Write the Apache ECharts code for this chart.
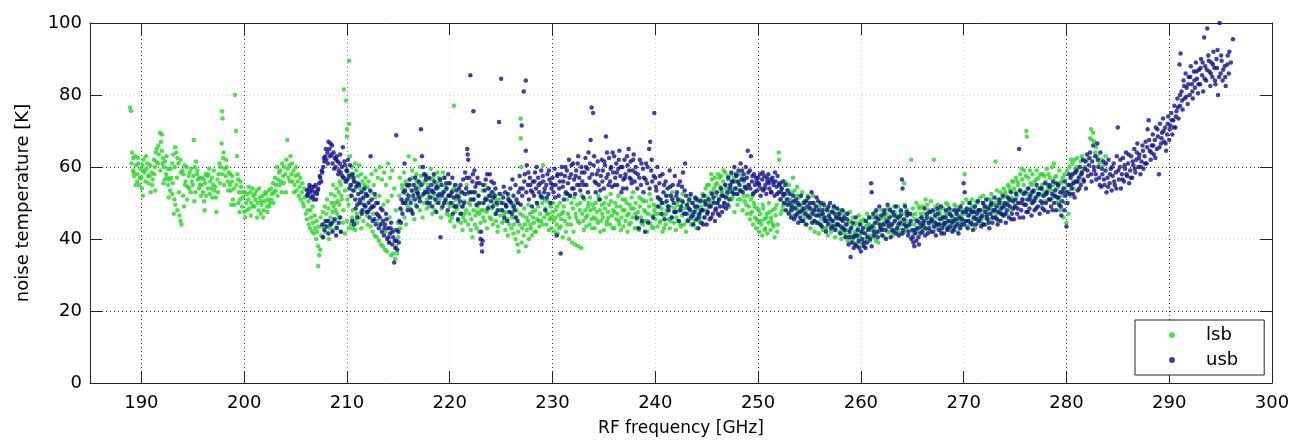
<!DOCTYPE html>
<html>
<head>
<meta charset="utf-8">
<script src="https://cdn.jsdelivr.net/npm/echarts@6/dist/echarts.min.js"></script>
<style>
html,body{margin:0;padding:0;background:#fff;}
#chart{width:1296px;height:442px;}
</style>
</head>
<body>
<div id="chart"></div>
<script>
// ---- lsb (green) : [frequency GHz, noise temperature K]
var lsb1 = [[188.9,76.5],[189.0,75.6],[189.1,64],[189.2,62.5],[189.2,59],[189.3,57.5],[189.4,63],[189.5,60.5],[189.6,58],[189.6,56],[189.7,61],[189.8,55],[189.9,59.5],[190.0,57],[190.1,60.5],[190.2,62],[190.3,58.5],[190.4,56],[190.5,59.5],[190.6,61],[190.7,55.5],[190.8,57.5],[190.9,53],[191.0,58.5],[191.1,56.5],[191.2,62],[191.3,60],[191.4,64],[191.5,65],[191.6,61],[191.7,63.5],[191.8,69.5],[191.9,67],[192.0,69],[192.0,64.5],[192.1,62.5],[192.2,60],[192.3,61.5],[192.4,58],[192.5,57],[192.6,55],[192.6,59.5],[192.7,56.5],[192.8,53.5],[192.9,57],[193.0,61],[193.0,52.5],[193.1,63.5],[193.2,51],[193.3,65.5],[193.3,49.5],[193.4,64],[193.5,62.5],[193.5,48],[193.6,61],[193.7,46.5],[193.8,62],[193.8,45],[193.9,44],[194.0,59],[194.1,58],[194.2,60.5],[194.3,56],[194.4,60],[194.5,54.5],[194.6,57.5],[194.7,58.5],[194.8,53],[194.9,56],[195.0,55],[195.1,67.5],[195.2,60],[195.3,61.5],[195.4,58],[195.5,56.5],[195.6,54],[195.7,55],[195.8,52],[195.9,57],[196.0,53],[196.1,50.5],[196.2,55.5],[196.3,52],[196.4,57.5],[196.5,58],[196.6,59.5],[196.7,56],[196.8,54],[196.9,51.5],[197.0,55],[197.1,53.5],[197.2,54.5],[197.3,47.5],[197.4,56.5],[197.5,58],[197.6,61],[197.7,60],[197.8,66.5],[197.85,75.5],[197.9,73.5],[198.0,64],[198.1,59.5],[198.2,57.5],[198.3,60],[198.4,56],[198.5,58.5],[198.6,55],[198.7,53.5],[198.8,56],[198.9,51],[199.0,54],[199.1,80],[199.2,70],[199.3,63],[199.35,58],[199.4,56.5],[199.5,53],[199.6,51],[199.7,54.5],[199.8,49],[199.9,51.5],
 [189.05,61],[189.25,58.5],[189.45,55],[189.65,62.5],[189.85,57],[190.05,54],[190.25,59],[190.45,63],[190.65,57.5],[190.85,60.5],[191.05,55],[191.25,58],[191.45,61.5],[191.65,66],[191.85,59],[192.05,61],[192.25,56.5],[192.45,63],[192.65,51.5],[192.85,59.5],[193.05,55.5],[193.25,60],[193.45,57],[193.65,53],[193.85,58.5],[194.05,52],[194.25,55],[194.45,51],[194.65,54],[194.85,59.5],[195.05,57.5],[195.25,53],[195.45,59],[195.65,57],[195.85,55],[196.05,56.5],[196.25,58],[196.45,54],[196.65,52.5],[196.85,57],[197.05,59],[197.25,51.5],[197.45,53],[197.65,55.5],[197.85,58],[198.05,55],[198.25,62],[198.45,53.5],[198.65,58],[198.85,57.5],[199.05,49.5],[199.25,55],[199.45,50],[199.65,56],[199.85,53],[190.15,52],[191.35,53.5],[192.15,55.5],[193.15,47],[194.15,49],[195.15,50.5],[196.15,48],[197.95,62.5],[198.75,49.5],[199.55,47.5]];
var lsb2 = [[200.0,47.5],[200.1,46],[200.2,50],[200.3,52.5],[200.4,51],[200.5,48.5],[200.6,53],[200.7,50],[200.8,54],[200.9,52],[201.0,49],[201.1,51],[201.2,53.5],[201.3,50],[201.4,48],[201.5,51.5],[201.6,47],[201.7,49.5],[201.8,52],[201.9,48],[202.0,50.5],[202.1,52.5],[202.2,49],[202.3,51],[202.4,53.5],[202.5,50],[202.6,54],[202.7,52.5],[202.8,55.5],[202.9,53],[203.0,57],[203.1,55],[203.2,60],[203.3,56.5],[203.4,58.5],[203.5,59],[203.6,56],[203.7,61],[203.8,57.5],[203.9,60],[204.0,58],[204.1,62],[204.2,67.5],[204.3,57],[204.4,60.5],[204.5,63],[204.6,58],[204.7,56],[204.8,59],[204.9,55],[205.0,57.5],[205.1,53.5],[205.2,56],[205.3,52],[205.4,54.5],[205.5,51],[205.6,53],[205.7,50],[205.8,49],[205.9,51.5],[206.0,47],[206.1,45.5],[206.2,48],[206.3,44],[206.4,43],[206.5,46],[206.6,42],[206.7,44.5],[206.8,41.5],[206.9,43],[207.0,40],[207.1,42],[207.2,38],[207.2,32.5],[207.3,35.5],[207.4,37],[207.5,41],[207.6,43.5],[207.7,40.5],[207.8,44],[207.9,42],[208.0,47],[208.1,45],[208.2,48.5],[208.3,43],[208.4,46],[208.4,44],[208.5,50],[208.6,47.5],[208.6,42.5],[208.7,49],[208.8,52],[208.8,45],[208.9,48],[209.0,54],[209.0,43.5],[209.1,50.5],[209.2,53],[209.2,46],[209.3,56],[209.4,55],[209.4,42],[209.5,51],[209.6,57],[209.6,44.5],[209.7,81.5],[209.8,53.5],[209.8,41.5],[209.9,78.5],[210.0,70.5],[210.0,68.5],[210.0,45],[210.1,58.5],[210.2,89.5],[210.2,72],[210.2,43],[210.3,63],[210.3,55],
 [200.05,53],[200.25,48],[200.45,54.5],[200.65,46.5],[200.85,49],[201.05,52.5],[201.25,46],[201.45,54],[201.65,50.5],[201.85,46],[202.05,53],[202.25,47.5],[202.45,49],[202.65,51],[202.85,50],[203.05,53.5],[203.25,52],[203.45,55],[203.65,53],[203.85,55.5],[204.05,53],[204.25,59.5],[204.45,56],[204.65,61],[204.85,53],[205.05,60],[205.25,58],[205.45,57],[205.65,55.5],[205.85,54],[206.05,52],[206.25,50.5],[206.45,48],[206.65,49],[206.85,46.5],[207.05,45],[207.25,43.5],[207.45,46],[207.65,47.5],[207.85,49],[208.05,51],[208.25,40],[208.45,52.5],[208.65,55],[208.85,50],[209.05,47],[209.25,49.5],[209.45,52],[209.65,48],[209.85,56],[210.05,51]];
var lsb3 = [[210.4,57],[210.4,44],[210.5,60],[210.5,46],[210.6,58],[210.6,43],[210.7,56],[210.7,45],[210.8,61],[210.8,42.5],[210.9,59],[211.0,55],[211.0,44.5],[211.1,57.5],[211.2,60.5],[211.2,46],[211.3,54],[211.4,58],[211.4,43],[211.5,56],[211.6,53.5],[211.6,45],[211.7,55],[211.8,57],[211.9,52],[212.0,54.5],[212.0,44],[212.1,56],[212.2,50.5],[212.3,43.5],[212.4,58],[212.5,42],[212.6,55],[212.7,41],[212.8,59],[212.9,40.5],[213.0,57],[213.1,39.5],[213.2,60],[213.3,38.5],[213.4,56.5],[213.5,38],[213.6,58.5],[213.7,37],[213.8,55],[213.9,36.5],[214.0,61],[214.1,39],[214.2,57],[214.3,35.5],[214.4,59],[214.5,36],[214.6,54],[214.7,34.5],[214.8,38],[214.9,36],[215.0,40.5],[215.1,52],[215.2,43],[215.3,48],[215.4,54],[215.5,50.5],[215.6,46],[215.7,56],[215.8,52.5],[215.9,49],[216.0,63],[216.1,55],[216.2,51],[216.3,47.5],[216.4,57],[216.5,53],[216.6,62],[216.7,49.5],[216.8,56],[216.9,51.5],[217.0,54],[217.1,48],[217.2,57.5],[217.3,52],[217.4,55.5],[217.5,50],[217.6,53.5],[217.7,58],[217.8,51],[217.9,55],[218.0,49],[218.1,56.5],[218.2,53],[218.3,47],[218.4,57],[218.5,52.5],[218.6,55],[218.7,50],[218.8,58.5],[218.9,54],[219.0,51],[219.1,56],[219.2,48.5],[219.3,53],[219.4,57],[219.5,50.5],[219.6,54.5],[219.7,47],[219.8,52],[219.9,55.5],[220.0,49],
 [210.15,49.5],[210.35,52],[210.55,48],[210.75,53.5],[210.95,47],[211.15,50],[211.35,47.5],[211.55,51],[211.75,49],[211.95,46.5],[212.15,48],[212.35,53],[212.55,47],[212.75,51.5],[212.95,45],[213.15,52],[213.35,44],[213.55,49.5],[213.75,42],[213.95,50.5],[214.15,46],[214.35,52],[214.55,42.5],[214.75,48],[214.95,44.5],[215.15,57],[215.35,55],[215.55,58.5],[215.75,44],[215.95,54.5],[216.15,48.5],[216.35,59],[216.55,45.5],[216.75,58],[216.95,55],[217.15,60],[217.35,46],[217.55,56],[217.75,48.5],[217.95,52],[218.15,59.5],[218.35,51.5],[218.55,48],[218.75,55.5],[218.95,57],[219.15,46],[219.35,58.5],[219.55,53.5],[219.75,50],[219.95,46.5]];
var lsb4 = [[220.1,52.5],[220.2,46],[220.3,50],[220.4,77],[220.4,54],[220.5,47.5],[220.6,51],[220.7,48.5],[220.8,45],[220.9,52],[221.0,47],[221.1,44.5],[221.2,49],[221.3,46],[221.4,50.5],[221.5,45],[221.6,48],[221.7,52.5],[221.8,44],[221.9,47],[222.0,49.5],[222.1,45.5],[222.2,40.5],[222.3,48],[222.4,51],[222.5,46.5],[222.6,43],[222.7,49],[222.8,52],[222.9,47],[223.0,44.5],[223.1,50],[223.2,53.5],[223.3,48],[223.4,45],[223.5,51.5],[223.6,47.5],[223.7,54],[223.8,49],[223.9,46],[224.0,52],[224.1,48.5],[224.2,44],[224.3,50],[224.4,47],[224.5,45],[224.6,49.5],[224.7,43.5],[224.8,51],[224.9,46.5],[225.0,48],[225.1,44.5],[225.2,50],[225.3,47],[225.4,42.5],[225.5,49],[225.6,45.5],[225.7,51.5],[225.8,44],[225.9,47.5],[226.0,43],[226.1,49],[226.2,41.5],[226.3,46],[226.4,40],[226.5,48],[226.6,38.5],[226.7,36.5],[226.8,44],[226.9,73.5],[226.9,68],[226.95,60],[227.0,39],[227.1,46.5],[227.2,41],[227.3,44],[227.4,38],[227.5,42.5],[227.6,45],[227.7,40],[227.8,47],[227.9,43],[228.0,41],[228.1,46],[228.2,44.5],[228.3,48],[228.4,42],[228.5,45.5],[228.6,49],[228.7,43.5],[228.8,47],[228.9,45],[229.0,50],[229.1,60.5],[229.2,46],[229.3,48.5],[229.4,44],[229.5,50.5],[229.6,47],[229.7,45.5],[229.8,49],[229.9,43],[230.0,47.5],
 [220.05,45],[220.25,53.5],[220.45,43.5],[220.65,55],[220.85,49.5],[221.05,53],[221.25,42.5],[221.45,47],[221.65,55],[221.85,50],[222.05,42.5],[222.25,53],[222.45,44],[222.65,47.5],[222.85,42],[223.05,48],[223.25,46],[223.45,55],[223.65,43],[223.85,52],[224.05,45.5],[224.25,53],[224.45,51],[224.65,42],[224.85,48],[225.05,52.5],[225.25,45],[225.45,47.5],[225.65,41],[225.85,50.5],[226.05,46],[226.25,44],[226.45,50],[226.65,42],[226.85,47],[227.05,43],[227.25,48.5],[227.45,46],[227.65,49.5],[227.85,44],[228.05,47.5],[228.25,42],[228.45,50],[228.65,45],[228.85,51.5],[229.05,44],[229.25,51],[229.45,47],[229.65,42.5],[229.85,46]];
var lsb5 = [[230.1,45],[230.2,42],[230.3,48],[230.4,44],[230.5,41.5],[230.6,46.5],[230.7,50],[230.8,43.5],[230.9,47],[231.0,40.5],[231.1,49],[231.2,45],[231.3,42],[231.4,51],[231.5,47],[231.6,40],[231.7,52],[231.8,44],[231.9,39],[232.0,48.5],[232.1,51.5],[232.2,38.5],[232.3,46],[232.4,49.5],[232.5,38],[232.6,44.5],[232.7,50],[232.8,37.5],[232.9,47],[233.0,45],[233.1,51],[233.2,48],[233.3,43.5],[233.4,46.5],[233.5,50],[233.6,44],[233.7,48],[233.8,45.5],[233.9,49.5],[234.0,46],[234.1,43],[234.2,50],[234.3,47.5],[234.4,44.5],[234.5,51],[234.6,48],[234.7,45],[234.8,49.5],[234.9,46],[235.0,42.5],[235.1,48.5],[235.2,51.5],[235.3,45],[235.4,47.5],[235.5,49.5],[235.6,44],[235.7,50.5],[235.8,46.5],[235.9,48],[236.0,43],[236.1,50],[236.2,45.5],[236.3,47],[236.4,52],[236.5,44],[236.6,49],[236.7,46],[236.8,51],[236.9,43.5],[237.0,48],[237.1,45],[237.2,50],[237.3,42],[237.4,47],[237.5,49.5],[237.6,44.5],[237.7,51.5],[237.8,46],[237.9,48.5],[238.0,43],[238.1,50],[238.2,45.5],[238.3,47.5],[238.4,42.5],[238.5,49],[238.6,46],[238.7,51],[238.8,44],[238.9,48],[239.0,45],[239.1,50.5],[239.2,42],[239.3,47],[239.4,49],[239.5,44.5],[239.6,51],[239.7,46.5],[239.8,43],[239.9,48],[240.0,45.5],
 [230.05,50],[230.25,46],[230.45,49],[230.65,43],[230.85,45.5],[231.05,47.5],[231.25,52.5],[231.45,44],[231.65,46],[231.85,50],[232.05,42],[232.25,47],[232.45,45],[232.65,48],[232.85,52],[233.05,42.5],[233.25,46],[233.45,49],[233.65,51.5],[233.85,43],[234.05,48.5],[234.25,45.5],[234.45,52],[234.65,42],[234.85,47],[235.05,50],[235.25,44],[235.45,46],[235.65,52.5],[235.85,43],[236.05,47.5],[236.25,49],[236.45,45],[236.65,42.5],[236.85,48],[237.05,51],[237.25,46.5],[237.45,44],[237.65,48.5],[237.85,53],[238.05,47],[238.25,43],[238.45,51.5],[238.65,44.5],[238.85,50.5],[239.05,47.5],[239.25,45],[239.45,52.5],[239.65,43.5],[239.85,49.5]];
var lsb6 = [[240.1,49],[240.2,43.5],[240.3,47],[240.4,51],[240.5,45],[240.6,48.5],[240.7,42],[240.8,46.5],[240.9,50],[241.0,44],[241.1,48],[241.2,52],[241.3,45.5],[241.4,43],[241.5,49],[241.6,46],[241.7,51.5],[241.8,44.5],[241.9,47.5],[242.0,42.5],[242.1,49.5],[242.2,45],[242.3,48],[242.4,51],[242.5,43.5],[242.6,46.5],[242.7,50],[242.8,44],[242.9,47],[243.0,42],[243.1,49],[243.2,45.5],[243.3,48.5],[243.4,52],[243.5,44],[243.6,47],[243.7,50],[243.8,45],[243.9,48],[244.0,43],[244.1,46.5],[244.2,50.5],[244.3,47],[244.4,44.5],[244.5,49],[244.6,52.5],[244.7,46],[244.8,50],[244.9,54],[245.0,48],[245.1,51.5],[245.2,55],[245.3,49.5],[245.4,53],[245.5,56.5],[245.6,50.5],[245.7,54],[245.8,57],[245.9,52],[246.0,55.5],[246.1,58],[246.2,51],[246.3,54.5],[246.4,57.5],[246.5,53],[246.6,56],[246.7,50],[246.8,58.5],[246.9,54],[247.0,52],[247.1,56.5],[247.2,49],[247.3,55],[247.4,58],[247.5,51.5],[247.6,54],[247.7,47.5],[247.8,56],[247.9,52.5],[248.0,49.5],[248.1,55.5],[248.2,58],[248.3,51],[248.4,53.5],[248.5,48],[248.6,56],[248.7,50.5],[248.8,54],[248.9,47],[249.0,52],[249.1,49],[249.2,45.5],[249.3,51],[249.4,47.5],[249.5,44],[249.6,50],[249.7,46],[249.8,43],[249.9,48.5],[250.0,45],
 [240.05,47],[240.25,51.5],[240.45,44.5],[240.65,50],[240.85,43],[241.05,47],[241.25,49],[241.45,45],[241.65,53],[241.85,48.5],[242.05,46],[242.25,50.5],[242.45,44],[242.65,52.5],[242.85,48.5],[243.05,45],[243.25,50.5],[243.45,46.5],[243.65,44],[243.85,51],[244.05,48.5],[244.25,45],[244.45,51],[244.65,48],[244.85,52],[245.05,55],[245.25,50],[245.45,58],[245.65,53],[245.85,55],[246.05,50],[246.25,57],[246.45,53.5],[246.65,59],[246.85,55],[247.05,57.5],[247.25,53],[247.45,51],[247.65,57],[247.85,54],[248.05,51],[248.25,53.5],[248.45,57],[248.65,52],[248.85,49.5],[249.05,55],[249.25,47],[249.45,52],[249.65,49],[249.85,45.5]];
var lsb7 = [[250.1,42],[250.2,47],[250.3,44],[250.4,41],[250.5,48.5],[250.6,45.5],[250.7,43],[250.8,46],[250.9,41.5],[251.0,44.5],[251.1,47.5],[251.2,42.5],[251.3,45],[251.4,48],[251.5,43.5],[251.6,40.5],[251.7,46.5],[251.8,49.5],[251.9,44],[252.0,64],[252.05,62],[252.1,51],[252.2,47],[252.3,54],[252.4,49],[252.5,52.5],[252.6,56],[252.7,50],[252.8,53.5],[252.9,47.5],[253.0,55],[253.1,51],[253.2,48.5],[253.3,53],[253.4,57],[253.5,50],[253.6,46],[253.7,52],[253.8,54.5],[253.9,48],[254.0,51.5],[254.1,45],[254.2,49],[254.3,53],[254.4,47],[254.5,50.5],[254.6,44],[254.7,48],[254.8,52],[254.9,46],[255.0,49.5],[255.1,43],[255.2,47.5],[255.3,50],[255.4,45],[255.5,42],[255.6,48],[255.7,44.5],[255.8,46.5],[255.9,41.5],[256.0,49],[256.1,44],[256.2,47],[256.3,42.5],[256.4,45.5],[256.5,48.5],[256.6,43],[256.7,46],[256.8,41],[256.9,44.5],[257.0,47.5],[257.1,42],[257.2,45],[257.3,48],[257.4,43.5],[257.5,40.5],[257.6,46],[257.7,44],[257.8,47],[257.9,42],[258.0,45.5],[258.1,40],[258.2,43],[258.3,46.5],[258.4,41.5],[258.5,44],[258.6,47],[258.7,39.5],[258.8,42.5],[258.9,45],[259.0,41],[259.1,43.5],[259.2,46],[259.3,39],[259.4,42],[259.5,44.5],[259.6,40.5],[259.7,43],[259.8,46.5],[259.9,41],[260.0,44],
 [250.05,48],[250.25,45],[250.45,49.5],[250.65,42.5],[250.85,47],[251.05,50],[251.25,46],[251.45,44],[251.65,48.5],[251.85,42],[252.15,55],[252.35,48],[252.55,50],[252.75,55.5],[252.95,51],[253.15,49],[253.35,46.5],[253.55,53.5],[253.75,49],[253.95,52],[254.15,47.5],[254.35,50],[254.55,46],[254.75,51],[254.95,48.5],[255.15,46],[255.35,52],[255.55,44.5],[255.75,49],[255.95,47],[256.15,45.5],[256.35,50],[256.55,43],[256.75,48.5],[256.95,46],[257.15,44],[257.35,49],[257.55,43],[257.75,45.5],[257.95,48],[258.15,42.5],[258.35,47.5],[258.55,41],[258.75,44.5],[258.95,47.5],[259.15,40],[259.35,44],[259.55,42],[259.75,39],[259.95,45]];
var lsb8 = [[260.1,38.5],[260.2,42],[260.3,45],[260.4,40],[260.5,43.5],[260.6,47],[260.7,41],[260.8,44],[260.9,39.5],[261.0,42.5],[261.1,46],[261.2,40.5],[261.3,43],[261.4,47.5],[261.5,41.5],[261.6,44.5],[261.7,39],[261.8,42],[261.9,45.5],[262.0,48],[262.1,43],[262.2,46],[262.3,40.5],[262.4,44],[262.5,47],[262.6,42],[262.7,45],[262.8,48.5],[262.9,43.5],[263.0,46.5],[263.1,41],[263.2,44.5],[263.3,47.5],[263.4,42.5],[263.5,45.5],[263.6,49],[263.7,43],[263.8,46],[263.9,41.5],[264.0,44],[264.1,47],[264.2,55.5],[264.3,42],[264.4,45],[264.5,48],[264.6,43.5],[264.9,62],[265.0,46.5],[265.1,41.5],[265.2,44],[265.3,47],[265.4,50],[265.5,43],[265.6,45.5],[265.7,48.5],[265.8,42.5],[265.9,46],[266.0,49],[266.1,44],[266.2,47],[266.3,51],[266.4,45],[266.5,42.5],[266.6,48],[266.7,46],[266.8,50.5],[266.9,44.5],[267.1,62],[267.2,47.5],[267.3,43],[267.4,46],[267.5,49.5],[267.6,44],[267.7,47],[267.8,42],[267.9,45.5],[268.0,48.5],[268.1,43.5],[268.2,46.5],[268.3,50],[268.4,44],[268.5,47],[268.6,42.5],[268.7,45],[268.8,48],[268.9,43],[269.0,46],[269.1,49.5],[269.2,44.5],[269.3,47.5],[269.4,42],[269.5,45],[269.6,48.5],[269.7,43.5],[269.8,46.5],[269.9,50],[270.0,45],
 [260.05,41.5],[260.25,45.5],[260.45,39],[260.65,44],[260.85,46],[261.05,41],[261.25,44],[261.45,39.5],[261.65,46.5],[261.85,43.5],[262.05,41],[262.25,44.5],[262.45,46],[262.65,48.5],[262.85,42],[263.05,44],[263.25,49],[263.45,46.5],[263.65,42],[263.85,47.5],[264.05,45],[264.25,49.5],[264.45,42.5],[264.65,47],[264.85,44],[265.05,48.5],[265.25,45.5],[265.45,42],[265.65,49],[265.85,47],[266.05,43],[266.25,45],[266.45,49.5],[266.65,44],[266.85,47.5],[267.05,45],[267.25,49],[267.45,43.5],[267.65,48],[267.85,46],[268.05,44.5],[268.25,47.5],[268.45,49.5],[268.65,45],[268.85,46],[269.05,43.5],[269.25,49],[269.45,46.5],[269.65,45],[269.85,48]];
var lsb9 = [[270.1,58],[270.2,48],[270.3,43.5],[270.4,46.5],[270.5,50],[270.6,44],[270.7,47],[270.8,51],[270.9,45.5],[271.0,48.5],[271.1,43],[271.2,46],[271.3,50],[271.4,44.5],[271.5,47.5],[271.6,51.5],[271.7,45],[271.8,48],[271.9,52],[272.0,46],[272.1,49],[272.2,44],[272.3,47.5],[272.4,51],[272.5,45.5],[272.6,48.5],[272.7,52.5],[272.8,46],[272.9,49.5],[273.1,61.5],[273.2,47],[273.3,51],[273.4,45],[273.5,48],[273.6,53],[273.7,50],[273.8,46.5],[273.9,54],[274.0,49],[274.1,52],[274.2,47],[274.3,55],[274.4,50.5],[274.5,53.5],[274.6,48],[274.7,56],[274.8,51],[274.9,54],[275.0,49.5],[275.1,57],[275.2,52],[275.3,55],[275.4,50],[275.5,58],[275.6,53],[275.7,56.5],[275.8,51],[275.9,59],[276.1,70],[276.15,68.5],[276.2,54],[276.3,57],[276.4,52],[276.5,55.5],[276.6,50],[276.7,58],[276.8,53],[276.9,56],[277.0,51],[277.1,59],[277.2,54],[277.3,57],[277.4,52.5],[277.5,49],[277.6,55],[277.7,58],[277.8,53],[277.9,50.5],[278.0,56],[278.1,59.5],[278.2,54],[278.3,51],[278.4,57],[278.5,53.5],[278.6,60],[278.7,55],[278.8,61],[278.9,52],[279.0,57.5],[279.1,50],[279.2,54.5],[279.3,59],[279.4,48],[279.5,56],[279.6,52],[279.7,46],[279.8,58],[279.9,50],[280.0,44.5],[280.1,55],[280.2,47],[280.3,60],[280.4,52],[280.5,57.5],[280.6,61],[280.7,54],[280.8,62],[280.9,58.5],[281.0,60],[281.2,56],[281.4,61.5],[281.6,59],[282.3,68],[282.4,70.5],[282.6,69.5],[282.7,67],[282.9,65.5],[283.0,63],[283.4,62],[283.6,60.5],[283.8,63],
 [270.05,47],[270.25,51],[270.45,45],[270.65,48.5],[270.85,49],[271.05,46],[271.25,50.5],[271.45,48],[271.65,45.5],[271.85,50],[272.05,48.5],[272.25,46],[272.45,49],[272.65,51],[272.85,47.5],[273.05,50],[273.25,53.5],[273.45,49],[273.65,47],[273.85,51.5],[274.05,53],[274.25,50],[274.45,54.5],[274.65,51.5],[274.85,56],[275.05,53],[275.25,56],[275.45,53.5],[275.65,59.5],[275.85,55],[276.05,57.5],[276.25,52.5],[276.45,59],[276.65,55],[276.85,51],[277.05,56.5],[277.25,52],[277.45,58],[277.65,52],[277.85,57.5],[278.05,53],[278.25,58],[278.45,55],[278.65,51.5],[278.85,57],[279.05,54],[279.25,50.5],[279.45,55.5],[279.65,57],[279.85,54],[280.05,59],[280.25,53],[280.45,62],[280.65,56],[280.85,59.5],[281.05,62.5],[281.3,57.5],[281.5,63],[281.8,60],[282.0,62],[282.5,67.5],[282.8,64],[283.2,61]];

// ---- usb (blue)
var usb1 = [[206.1,53.5],[206.2,52.5],[206.3,54],[206.4,53],[206.5,51.5],[206.6,53.5],[206.7,52],[206.8,54.5],[206.9,53],[207.0,51],[207.1,52.5],[207.2,54],[207.3,55.5],[207.4,57],[207.5,56],[207.6,58.5],[207.6,44],[207.7,60],[207.8,61.5],[207.8,42.5],[207.9,63],[207.9,45],[208.0,62],[208.0,43.5],[208.1,64],[208.2,67],[208.2,41.5],[208.3,65],[208.4,66.5],[208.4,44],[208.5,63.5],[208.6,61],[208.6,42],[208.7,64],[208.8,62.5],[208.8,45.5],[208.9,60],[209.0,63],[209.0,43],[209.1,61.5],[209.2,59],[209.2,44.5],[209.3,61],[209.4,58.5],[209.4,42],[209.5,60],[209.6,65.5],[209.7,57],[209.8,60.5],[209.9,56],
 [206.15,52],[206.35,55],[206.55,54.5],[206.75,51],[206.95,55],[207.15,53.5],[207.35,57.5],[207.55,59],[207.75,62.5],[207.95,65],[208.15,61],[208.35,63],[208.55,66],[208.75,59.5],[208.95,62],[209.15,58],[209.35,63.5],[209.55,57.5],[209.75,61.5],[209.95,59],[207.65,40.5],[208.15,45],[208.55,44.5],[208.95,41],[209.35,46]];
var usb2 = [[210.0,59],[210.1,62],[210.2,57.5],[210.3,60.5],[210.4,55],[210.5,58],[210.5,45],[210.6,53.5],[210.7,56],[210.7,44],[210.8,51],[210.9,54.5],[211.0,49.5],[211.0,46],[211.1,52.5],[211.2,55],[211.3,50],[211.4,53],[211.5,48],[211.6,51.5],[211.7,54],[211.8,49],[211.9,47.5],[212.0,52],[212.1,50],[212.2,46],[212.3,63],[212.3,48.5],[212.4,51],[212.5,45],[212.6,49],[212.7,52.5],[212.8,44],[212.9,47],[213.0,50],[213.1,43],[213.2,46],[213.3,48.5],[213.4,42],[213.5,45],[213.6,41],[213.7,44],[213.8,47],[213.9,40],[214.0,43],[214.1,39],[214.2,41.5],[214.3,44.5],[214.4,38.5],[214.5,40.5],[214.6,33.5],[214.7,37.5],[214.8,68.8],[214.8,39.5],[214.9,37],[215.0,42],[215.1,45],[215.2,48.5],[215.3,51],[215.4,47],[215.5,53],[215.6,61],[215.7,50],[215.8,55],[215.9,48],[216.0,52],[216.1,56.5],[216.2,50],[216.3,53.5],[216.4,47],[216.5,55],[216.6,51],[216.7,54],[216.8,49],[216.9,52.5],[217.0,56],[217.1,50.5],[217.2,70.5],[217.3,63],[217.4,60],[217.5,58],[217.6,53],[217.7,56.5],[217.8,50],[217.9,54],[218.0,57],[218.1,51.5],[218.2,55],[218.3,49],[218.4,53],[218.5,56],[218.6,51],[218.7,47.5],[218.8,54.5],[218.9,50],[219.0,52.5],[219.1,40.5],[219.2,55],[219.3,49],[219.4,53],[219.5,57],[219.6,51],[219.7,54],[219.8,48],[219.9,52],
 [210.05,56.5],[210.25,54],[210.45,52],[210.65,57],[210.85,48.5],[211.05,55.5],[211.25,51],[211.45,47],[211.65,49.5],[211.85,52.5],[212.05,47.5],[212.25,53.5],[212.45,49],[212.65,45.5],[212.85,50],[213.05,46.5],[213.25,44],[213.45,48],[213.65,43],[213.85,45.5],[214.05,40.5],[214.25,43],[214.45,42],[214.65,39.5],[214.85,42.5],[215.05,39],[215.25,44.5],[215.45,50],[215.65,53.5],[215.85,51],[216.05,55],[216.25,48],[216.45,52],[216.65,57],[216.85,53],[217.05,51.5],[217.25,55],[217.45,52.5],[217.65,57.5],[217.85,53],[218.05,50],[218.25,53.5],[218.45,58],[218.65,54],[218.85,52],[219.05,56.5],[219.25,52],[219.45,50],[219.65,55.5],[219.85,58]];
var usb3 = [[220.0,55.5],[220.1,50],[220.2,53],[220.3,47],[220.4,51.5],[220.5,55],[220.6,49],[220.7,52],[220.8,45.5],[220.9,54],[221.0,50.5],[221.1,47],[221.2,53],[221.3,56.5],[221.4,50],[221.5,58.5],[221.6,54],[221.7,65],[221.75,63.5],[221.8,62],[221.9,57],[222.0,85.5],[222.1,53],[222.2,56],[222.3,75.5],[222.3,51],[222.4,59],[222.5,54.5],[222.6,49.5],[222.7,57],[222.8,52],[222.9,55.5],[223.0,40],[223.1,38.5],[223.15,36.5],[223.2,39.5],[223.3,50],[223.4,53.5],[223.5,56.5],[223.6,51],[223.7,48.5],[223.8,54],[223.9,58],[224.0,50.5],[224.1,53],[224.2,49],[224.3,55.5],[224.4,52],[224.5,47],[224.6,50],[224.8,72.5],[225.0,84.5],[225.1,48],[225.2,51.5],[225.3,46],[225.4,53],[225.5,49],[225.6,45],[225.7,51],[225.8,47.5],[225.9,54],[226.0,50],[226.1,56.5],[226.2,52],[226.3,48],[226.4,55],[226.5,51],[226.6,45],[226.7,53],[226.8,57.5],[226.9,49.5],[227.0,71.5],[227.1,54],[227.2,81],[227.3,58],[227.4,84],[227.4,64.5],[227.5,60.5],[227.6,55],[227.7,51],[227.8,57],[227.9,53.5],[228.0,49],[228.1,56],[228.2,52],[228.3,58.5],[228.4,54],[228.5,50],[228.6,57],[228.7,53],[228.8,55.5],[228.9,59],[229.0,51.5],[229.1,56],[229.2,53],[229.3,48],[229.4,55],[229.5,58],[229.6,52.5],[229.7,56.5],[229.8,50],[229.9,54],
 [220.05,52],[220.25,57],[220.45,49],[220.65,53.5],[220.85,51.5],[221.05,55],[221.25,49],[221.45,52.5],[221.65,57],[221.85,53],[222.05,51],[222.25,58],[222.45,53],[222.65,55.5],[222.85,50],[223.05,42],[223.25,55],[223.45,51],[223.65,58],[223.85,52],[224.05,56],[224.25,51.5],[224.45,54],[224.65,48],[224.85,52.5],[225.05,50],[225.25,54.5],[225.45,49.5],[225.65,52.5],[225.85,50.5],[226.05,47],[226.25,49],[226.45,46],[226.65,50],[226.85,54],[227.05,52],[227.25,56],[227.45,53],[227.65,58.5],[227.85,55],[228.05,53],[228.25,56],[228.45,60],[228.65,55],[228.85,52],[229.05,57.5],[229.25,54],[229.45,51.5],[229.65,59],[229.85,55.5]];
var usb4 = [[230.0,57],[230.1,53],[230.2,59.5],[230.3,55],[230.4,41],[230.5,58],[230.6,52],[230.7,56],[230.8,36],[230.9,60],[231.0,54.5],[231.1,51],[231.2,57.5],[231.3,53],[231.4,59],[231.5,55.5],[231.6,62],[231.7,52],[231.8,58],[231.9,54],[232.0,61],[232.1,56.5],[232.2,52.5],[232.3,59],[232.4,55],[232.5,63],[232.6,57],[232.7,53.5],[232.8,60],[232.9,56],[233.0,51.5],[233.1,58.5],[233.2,62.5],[233.3,55],[233.4,59.5],[233.5,64],[233.6,57],[233.7,67.5],[233.8,76.5],[233.95,75],[234.0,60.5],[234.1,56],[234.2,53],[234.3,58],[234.4,61.5],[234.5,55],[234.6,51],[234.7,57.5],[234.8,62],[234.9,59],[235.0,54],[235.1,60.5],[235.2,68.5],[235.3,64],[235.4,58],[235.5,62.5],[235.6,56],[235.7,60],[235.8,54.5],[235.9,58.5],[236.0,63],[236.1,57],[236.2,61],[236.3,55],[236.4,59.5],[236.5,64.5],[236.6,57.5],[236.7,53],[236.8,60],[236.9,56.5],[237.0,62],[237.1,58],[237.2,54],[237.3,60.5],[237.4,65],[237.5,57],[237.6,61.5],[237.7,55.5],[237.8,59],[237.9,63.5],[238.0,56],[238.1,60],[238.2,46],[238.3,58],[238.4,43],[238.5,62],[238.6,55],[238.7,45],[238.8,59.5],[238.9,57],[239.0,42],[239.1,61],[239.2,55.5],[239.3,44.5],[239.4,65],[239.5,67],[239.6,59],[239.7,56],[239.8,46],[239.9,75],
 [230.05,55],[230.25,51.5],[230.45,57.5],[230.65,54],[230.85,58],[231.05,56],[231.25,60],[231.45,52.5],[231.65,57],[231.85,60.5],[232.05,54],[232.25,57.5],[232.45,61],[232.65,55],[232.85,58.5],[233.05,55],[233.25,60],[233.45,53],[233.65,61],[233.85,58],[234.05,63],[234.25,55.5],[234.45,59],[234.65,53.5],[234.85,56],[235.05,61.5],[235.25,57],[235.45,55],[235.65,59.5],[235.85,64],[236.05,55],[236.25,58.5],[236.45,62],[236.65,60],[236.85,54],[237.05,57],[237.25,63],[237.45,59],[237.65,56.5],[237.85,62],[238.05,58.5],[238.25,54],[238.45,57],[238.65,61],[238.85,53],[239.05,56.5],[239.25,60],[239.45,54],[239.65,62],[239.85,57.5]];
var usb5 = [[240.0,57],[240.1,53.5],[240.2,60],[240.3,49],[240.4,55.5],[240.5,51],[240.6,47],[240.7,58],[240.8,53],[240.9,45.5],[241.0,56],[241.1,50.5],[241.2,54],[241.3,48],[241.4,59],[241.5,52],[241.6,46],[241.7,55],[241.8,50],[241.9,57.5],[242.0,47.5],[242.1,53],[242.2,51],[242.3,45],[242.4,56],[242.5,49],[242.6,54.5],[242.7,58.5],[242.8,47],[242.9,61],[243.0,52],[243.1,49.5],[243.2,45],[243.3,51],[243.4,48],[243.5,46],[243.6,50],[243.7,44],[243.8,47.5],[243.9,51.5],[244.0,45.5],[244.1,49],[244.2,43],[244.3,47],[244.4,50.5],[244.5,44.5],[244.6,48],[244.7,52],[244.8,46],[244.9,49.5],[245.0,44],[245.1,47.5],[245.2,51],[245.3,45.5],[245.4,49],[245.5,52.5],[245.6,47],[245.7,50],[245.8,45],[245.9,48.5],[246.0,53],[246.1,47],[246.2,51],[246.3,49],[246.4,54],[246.5,47.5],[246.6,52],[246.7,50],[246.8,55],[246.9,48.5],[247.0,53],[247.1,57],[247.2,51],[247.3,55],[247.4,58.5],[247.5,53],[247.6,56],[247.7,60],[247.8,54],[247.9,57.5],[248.0,52.5],[248.1,59],[248.2,55],[248.3,61],[248.4,56.5],[248.5,53],[248.6,58],[248.7,54.5],[248.8,60],[248.9,57],[249.0,64.5],[249.1,55],[249.2,59],[249.3,63],[249.4,56],[249.5,52.5],[249.6,58],[249.7,55],[249.8,57],[249.9,53.5],
 [240.05,54.5],[240.25,51.5],[240.45,57.5],[240.65,50],[240.85,55],[241.05,52],[241.25,49],[241.45,54.5],[241.65,51],[241.85,47.5],[242.05,52],[242.25,55],[242.45,48],[242.65,50.5],[242.85,53.5],[243.05,47],[243.25,48.5],[243.45,52.5],[243.65,46.5],[243.85,49],[244.05,51],[244.25,46],[244.45,48],[244.65,44],[244.85,50.5],[245.05,47],[245.25,49],[245.45,46],[245.65,51.5],[245.85,48],[246.05,50],[246.25,46.5],[246.45,52],[246.65,49],[246.85,51.5],[247.05,49.5],[247.25,54],[247.45,56],[247.65,52.5],[247.85,58],[248.05,56],[248.25,53.5],[248.45,59],[248.65,56.5],[248.85,54],[249.05,58.5],[249.25,54],[249.45,57.5],[249.65,53],[249.85,56]];
var usb6 = [[250.0,57],[250.1,55],[250.2,58],[250.3,54],[250.4,56.5],[250.5,53.5],[250.6,57.5],[250.7,55],[250.8,52.5],[250.9,56],[251.0,58],[251.1,54],[251.2,56.5],[251.3,53],[251.4,57],[251.5,55],[251.6,52],[251.7,56],[251.8,54.5],[251.9,57.5],[252.0,53],[252.1,55.5],[252.2,51],[252.3,54],[252.4,56],[252.5,50],[252.6,52.5],[252.7,48],[252.8,51],[252.9,53.5],[253.0,47],[253.1,50],[253.2,46],[253.3,49],[253.4,52],[253.5,45.5],[253.6,48.5],[253.7,51],[253.8,47],[253.9,44.5],[254.0,49.5],[254.1,46],[254.2,52],[254.3,48],[254.4,45],[254.5,50],[254.6,47],[254.7,44],[254.8,49],[254.9,51.5],[255.0,46],[255.1,48.5],[255.2,53],[255.3,47],[255.4,50],[255.5,45],[255.6,49],[255.7,51.5],[255.8,44.5],[255.9,48],[256.0,46.5],[256.1,50],[256.2,43.5],[256.3,47],[256.4,49.5],[256.5,45],[256.6,42],[256.7,48],[256.8,44],[256.9,46.5],[257.0,50],[257.1,43],[257.2,47.5],[257.3,45],[257.4,49],[257.5,42.5],[257.6,46],[257.7,48.5],[257.8,44],[257.9,47],[258.0,41.5],[258.1,45.5],[258.2,48],[258.3,43],[258.4,46],[258.5,40.5],[258.6,44],[258.7,47],[258.8,38.5],[258.9,42],[259.0,35],[259.1,39],[259.2,44.5],[259.3,37.5],[259.4,41],[259.5,46],[259.6,38],[259.7,42.5],[259.8,39.5],[259.9,44],[260.0,36.5],
 [250.05,55.5],[250.25,52],[250.45,58.5],[250.65,54],[250.85,57],[251.05,55.5],[251.25,53],[251.45,56],[251.65,58.5],[251.85,52.5],[252.05,55],[252.25,53],[252.45,52],[252.65,55],[252.85,49.5],[253.05,52.5],[253.25,48],[253.45,50.5],[253.65,46.5],[253.85,50],[254.05,47.5],[254.25,45],[254.45,48.5],[254.65,50.5],[254.85,46.5],[255.05,50],[255.25,44.5],[255.45,48],[255.65,46.5],[255.85,50.5],[256.05,44],[256.25,48],[256.45,46],[256.65,45],[256.85,49],[257.05,45.5],[257.25,43.5],[257.45,47],[257.65,44],[257.85,46],[258.05,43.5],[258.25,45],[258.45,42.5],[258.65,45.5],[258.85,40.5],[259.05,43],[259.25,40.5],[259.45,38.5],[259.65,41],[259.85,37.5]];
var usb7 = [[260.1,40],[260.2,43],[260.3,38],[260.4,41.5],[260.5,45],[260.6,39],[260.7,42.5],[260.8,46],[260.9,40],[261.0,55.5],[261.05,53],[261.1,43.5],[261.2,47],[261.3,41],[261.4,44.5],[261.5,48],[261.6,42],[261.7,45.5],[261.8,49],[261.9,43],[262.0,46.5],[262.1,41],[262.2,44],[262.3,48],[262.4,42.5],[262.5,45],[262.6,49.5],[262.7,43.5],[262.8,46],[262.9,40.5],[263.0,44],[263.1,47.5],[263.2,42],[263.3,45],[263.4,49],[263.5,43],[263.6,46],[263.7,41],[263.8,44.5],[263.9,48],[264.0,56.5],[264.05,54],[264.1,42.5],[264.2,45.5],[264.3,49],[264.4,43.5],[264.5,46.5],[264.6,41],[264.7,44],[264.8,47],[264.9,40],[265.0,42.5],[265.1,39],[265.2,38],[265.3,41.5],[265.4,39.5],[265.5,43],[265.6,40.5],[265.7,44.5],[265.8,41.5],[265.9,46],[266.0,42],[266.1,45],[266.2,48.5],[266.3,43],[266.4,46],[266.5,41.5],[266.6,44.5],[266.7,47.5],[266.8,42],[266.9,45.5],[267.0,48],[267.1,43.5],[267.2,46.5],[267.3,41],[267.4,44],[267.5,47],[267.6,42.5],[267.7,45.5],[267.8,49],[267.9,43],[268.0,46],[268.1,41.5],[268.2,44.5],[268.3,48],[268.4,42.5],[268.5,45],[268.6,48.5],[268.7,43.5],[268.8,46.5],[268.9,42],[269.0,45],[269.1,48],[269.2,43.5],[269.3,47],[269.4,44],[269.5,41.5],[269.6,46],[269.7,49],[269.8,44],[269.9,47.5],[270.0,55.5],
 [260.05,42],[260.25,39],[260.45,37.5],[260.65,40.5],[260.85,43],[261.05,38],[261.25,42],[261.45,46],[261.65,40.5],[261.85,44],[262.05,42.5],[262.25,47],[262.45,40],[262.65,44.5],[262.85,48],[263.05,42.5],[263.25,46.5],[263.45,41.5],[263.65,44],[263.85,46.5],[264.05,41.5],[264.25,44],[264.45,47.5],[264.65,42],[264.85,45],[265.05,40.5],[265.25,42.5],[265.45,45],[265.65,38.5],[265.85,43.5],[266.05,44],[266.25,41],[266.45,47],[266.65,43],[266.85,45],[267.05,42],[267.25,44.5],[267.45,48.5],[267.65,44],[267.85,41.5],[268.05,44],[268.25,46],[268.45,43],[268.65,47],[268.85,44.5],[269.05,42.5],[269.25,45.5],[269.45,48],[269.65,43],[269.85,45.5]];
var usb8 = [[270.1,53],[270.2,45],[270.3,48.5],[270.4,43],[270.5,46.5],[270.6,50],[270.7,44.5],[270.8,47.5],[270.9,42.5],[271.0,46],[271.1,49],[271.2,44],[271.3,47],[271.4,50.5],[271.5,45],[271.6,48],[271.7,43.5],[271.8,46.5],[271.9,50],[272.0,44],[272.1,47.5],[272.2,51],[272.3,45.5],[272.4,48.5],[272.5,43],[272.6,47],[272.7,50],[272.8,44.5],[272.9,48],[273.0,51.5],[273.1,46],[273.2,49],[273.3,44],[273.4,47.5],[273.5,51],[273.6,45],[273.7,48.5],[273.8,52],[273.9,46.5],[274.0,50],[274.1,44.5],[274.2,48],[274.3,51.5],[274.4,46],[274.5,49],[274.6,53],[274.7,47],[274.8,50.5],[274.9,45.5],[275.0,49],[275.1,52.5],[275.2,47],[275.3,50],[275.4,65],[275.5,53.5],[275.6,48],[275.7,51],[275.8,46],[275.9,49.5],[276.0,53],[276.1,47.5],[276.2,51],[276.3,54],[276.4,48.5],[276.5,52],[276.6,46.5],[276.7,50],[276.8,53.5],[276.9,48],[277.0,51.5],[277.1,55],[277.2,49],[277.3,52.5],[277.4,47],[277.5,50.5],[277.6,54],[277.7,48.5],[277.8,52],[277.9,55.5],[278.0,50],[278.1,53],[278.2,47.5],[278.3,51],[278.4,54.5],[278.5,49],[278.6,52.5],[278.7,56],[278.8,50],[278.9,53.5],[279.0,48],[279.1,51.5],[279.2,55],[279.3,49.5],[279.4,53],[279.5,46.5],[279.6,50.5],[279.7,54],[279.8,48],[279.9,52],[280.0,43.5],[280.1,50],[280.2,55],[280.3,52.5],[280.4,57],[280.5,54],[280.6,58],[280.7,55.5],[280.8,51.5],[280.9,56],[281.0,59],[281.1,53.5],[281.2,57],[281.3,60],[281.4,55],[281.5,58.5],[281.6,62],[281.7,56],[281.8,59.5],[281.9,54],[282.0,63.5],[282.1,57.5],
 [270.05,44],[270.25,47.5],[270.45,45],[270.65,48],[270.85,44],[271.05,47.5],[271.25,45.5],[271.45,48],[271.65,46],[271.85,44],[272.05,49],[272.25,46.5],[272.45,44.5],[272.65,49.5],[272.85,46],[273.05,48],[273.25,45.5],[273.45,50],[273.65,47],[273.85,49],[274.05,47],[274.25,49.5],[274.45,51],[274.65,45.5],[274.85,48.5],[275.05,51],[275.25,48.5],[275.45,46],[275.65,50],[275.85,52.5],[276.05,49.5],[276.25,47.5],[276.45,51],[276.65,53],[276.85,50.5],[277.05,48.5],[277.25,52.5],[277.45,54],[277.65,50],[277.85,48],[278.05,52.5],[278.25,55],[278.45,51],[278.65,48],[278.85,52],[279.05,55.5],[279.25,51.5],[279.45,49],[279.65,53],[279.85,56],[280.05,53],[280.25,58],[280.45,55],[280.65,52.5],[280.85,58.5],[281.05,56],[281.25,54],[281.45,58],[281.65,56.5],[281.85,61.5]];
var usb9 = [[282.2,60.5],[282.3,64],[282.4,58],[282.5,61.5],[282.6,66],[282.7,59],[282.8,63],[282.9,56.5],[283.0,66.5],[283.1,60],[283.2,57],[283.3,64],[283.4,54.5],[283.5,58],[283.6,61.5],[283.7,55],[283.8,59],[283.9,53],[284.0,57],[284.1,62],[284.2,55.5],[284.3,59.5],[284.4,53.5],[284.5,57.5],[284.6,61],[284.7,55],[284.8,58.5],[284.9,63],[285.0,71],[285.1,56.5],[285.2,60],[285.3,54],[285.4,58],[285.5,62.5],[285.6,56],[285.7,59.5],[285.8,64],[285.9,57.5],[286.0,61],[286.1,55.5],[286.2,59],[286.3,63],[286.4,57],[286.5,60.5],[286.6,65],[286.7,58.5],[286.8,62],[286.9,66.5],[287.0,60],[287.1,63.5],[287.2,58],[287.3,61.5],[287.4,66],[287.5,59.5],[287.6,63],[287.7,67],[287.8,61],[287.9,70.5],[288.0,73],[288.1,64.5],[288.2,62],[288.3,66],[288.4,69],[288.5,63.5],[288.6,67.5],[288.7,71],[288.8,65],[288.9,68.5],[289.0,58],[289.1,72],[289.2,66.5],[289.3,69.5],[289.4,73.5],[289.5,67],[289.6,71],[289.7,64.5],[289.8,69],[289.9,74],[290.0,67.5],[290.1,71.5],[290.2,75],[290.3,69],[290.4,73],[290.5,77],[290.6,71],[290.7,75.5],[290.8,79],[290.9,73.5],[291.0,88.5],[291.05,77],[291.1,91.5],[291.2,81],[291.3,76],[291.4,84],[291.5,79],[291.6,86],[291.7,82],[291.8,77.5],[291.9,85],[292.0,80],[292.1,88],[292.2,83],[292.3,79],[292.4,86.5],[292.5,82],[292.6,89],[292.7,84.5],[292.8,80.5],[292.9,87],[293.0,83],[293.1,90],[293.2,85.5],[293.3,81],[293.4,96],[293.5,88],[293.6,84],[293.7,98.5],[293.8,91],[293.9,86.5],[294.0,82.5],[294.1,89],[294.2,85],[294.3,92],[294.4,87.5],[294.5,83],[294.6,90],[294.7,92.5],[294.75,80],[294.9,100],[295.0,86],[295.1,89.5],[295.2,84],[295.4,88],[295.5,82.5],[295.7,91],[295.8,86],[296.0,89],[296.2,95.5],
 [282.05,59],[282.25,62.5],[282.45,56],[282.65,60],[282.85,58],[283.05,62],[283.25,55],[283.45,59.5],[283.65,56.5],[283.85,61],[284.05,54.5],[284.25,58],[284.45,60],[284.65,56],[284.85,54],[285.05,59],[285.25,62],[285.45,56.5],[285.65,60.5],[285.85,58],[286.05,63.5],[286.25,57],[286.45,61.5],[286.65,59.5],[286.85,64],[287.05,62.5],[287.25,60],[287.45,64.5],[287.65,61],[287.85,65.5],[288.05,67.5],[288.25,64],[288.45,66],[288.65,62.5],[288.85,70.5],[289.05,65.5],[289.25,68],[289.45,70],[289.65,66.5],[289.85,72],[290.05,70.5],[290.25,73],[290.45,71],[290.65,74],[290.85,76.5],[291.05,80],[291.25,78.5],[291.45,82.5],[291.65,79.5],[291.85,83],[292.05,85],[292.25,81],[292.45,84],[292.65,86.5],[292.85,83],[293.05,87.5],[293.25,89],[293.45,84.5],[293.65,87],[293.85,89.5],[294.05,86],[294.25,88.5],[294.45,84],[294.65,87.5],[294.85,85],[295.05,91],[295.25,87],[295.45,85],[295.65,88.5],[295.85,92]];

var seriesNames = ['lsb', 'usb'];
var xTitle = 'RF frequency [GHz]';
var yTitle = 'noise temperature [K]';

var lsbData = [].concat(lsb1, lsb2, lsb3, lsb4, lsb5, lsb6, lsb7, lsb8, lsb9);
var usbData = [].concat(usb1, usb2, usb3, usb4, usb5, usb6, usb7, usb8, usb9);

var FONT = 'DejaVu Sans';
var DARK = '#333333', FAINT = '#d2d2d2', MID = '#8a8a8a';
var axisLineStyle = {color: '#222', width: 1};

var chart = echarts.init(document.getElementById('chart'), null, {renderer: 'canvas'});
chart.setOption({
  animation: false,
  backgroundColor: '#ffffff',
  grid: {left: 90, right: 24, top: 23, bottom: 57, show: false},
  legend: {
    data: seriesNames,
    orient: 'vertical',
    left: 1135, top: 320,
    backgroundColor: '#ffffff',
    borderColor: '#222', borderWidth: 1, borderRadius: 0,
    padding: [6, 26, 6, 34],
    itemGap: 7, itemWidth: 6, itemHeight: 6, icon: 'circle',
    textStyle: {fontFamily: FONT, fontSize: 18, color: '#000', lineHeight: 18, padding: [0, 0, 0, 26]}
  },
  xAxis: [{
    type: 'value', min: 185, max: 300, splitNumber: 11, position: 'bottom',
    name: xTitle, nameLocation: 'middle', nameGap: 37,
    nameTextStyle: {fontFamily: FONT, fontSize: 17, color: '#000'},
    axisLine: {show: true, onZero: false, lineStyle: axisLineStyle},
    axisTick: {show: true, inside: true, length: 12, lineStyle: axisLineStyle},
    axisLabel: {showMinLabel: false, margin: 11, fontFamily: FONT, fontSize: 18, color: '#000'},
    splitLine: {show: true, lineStyle: {type: [1, 3], width: 1,
      color: [DARK, DARK, DARK, MID, FAINT, DARK, FAINT, DARK, FAINT, FAINT, DARK, DARK, DARK]}}
  }, {
    type: 'value', min: 185, max: 300, splitNumber: 11, position: 'top',
    axisLine: {show: true, onZero: false, lineStyle: axisLineStyle},
    axisTick: {show: true, inside: true, length: 12, lineStyle: axisLineStyle},
    axisLabel: {show: false}, splitLine: {show: false}
  }],
  yAxis: [{
    type: 'value', min: 0, max: 100, interval: 20, position: 'left',
    name: yTitle, nameLocation: 'middle', nameGap: 58, nameRotate: 90,
    nameTextStyle: {fontFamily: FONT, fontSize: 18, color: '#000'},
    axisLine: {show: true, onZero: false, lineStyle: axisLineStyle},
    axisTick: {show: true, inside: true, length: 12, lineStyle: axisLineStyle},
    axisLabel: {margin: 8, fontFamily: FONT, fontSize: 18, color: '#000'},
    splitLine: {show: true, lineStyle: {type: [1, 3], width: 1,
      color: [DARK, DARK, FAINT, DARK, FAINT, DARK]}}
  }, {
    type: 'value', min: 0, max: 100, interval: 20, position: 'right',
    axisLine: {show: true, onZero: false, lineStyle: axisLineStyle},
    axisTick: {show: true, inside: true, length: 12, lineStyle: axisLineStyle},
    axisLabel: {show: false}, splitLine: {show: false}
  }],
  series: [{
    name: seriesNames[0], type: 'scatter', xAxisIndex: 0, yAxisIndex: 0,
    symbol: 'circle', symbolSize: 4.5, data: lsbData,
    itemStyle: {color: '#22d822'}, z: 2
  }, {
    name: seriesNames[1], type: 'scatter', xAxisIndex: 0, yAxisIndex: 0,
    symbol: 'circle', symbolSize: 4.5, data: usbData,
    itemStyle: {color: '#101090'}, z: 3
  }]
});
</script>
</body>
</html>
